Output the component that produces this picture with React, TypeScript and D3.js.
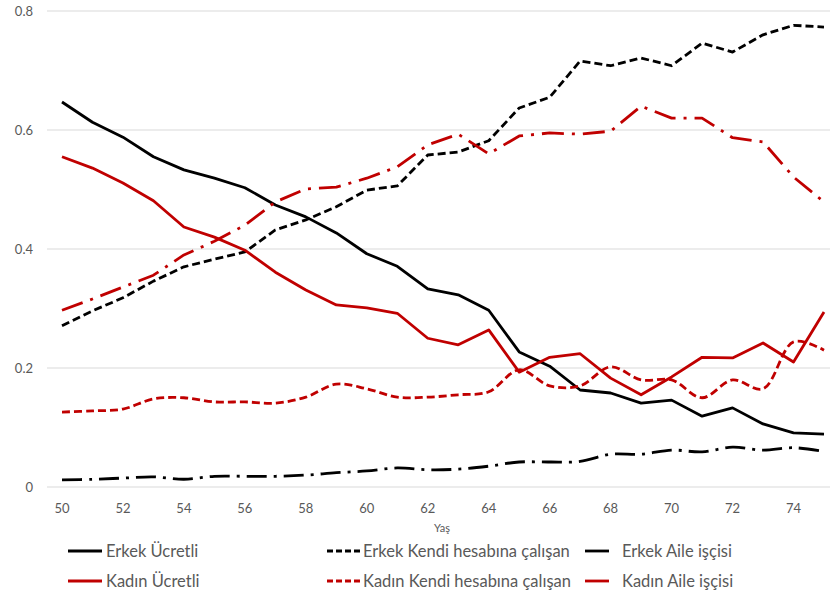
import React, { useRef, useEffect } from "react";
import * as d3 from "d3";

// ages on the x axis
const ages = d3.range(50, 76);
const xTicks = [50, 52, 54, 56, 58, 60, 62, 64, 66, 68, 70, 72, 74];
const yTicks = [0, 0.2, 0.4, 0.6, 0.8];

const erkekUcretli = [0.647, 0.613, 0.588, 0.555, 0.533, 0.519, 0.503, 0.474, 0.454, 0.427, 0.392, 0.371, 0.333, 0.323, 0.297, 0.227, 0.203, 0.163, 0.158, 0.141, 0.146, 0.119, 0.133, 0.106, 0.091, 0.089];
const kadinUcretli = [0.555, 0.536, 0.511, 0.481, 0.437, 0.42, 0.398, 0.361, 0.331, 0.306, 0.301, 0.292, 0.25, 0.239, 0.264, 0.193, 0.218, 0.224, 0.183, 0.155, 0.185, 0.218, 0.217, 0.242, 0.21, 0.294];
const erkekKendi = [0.271, 0.296, 0.318, 0.346, 0.37, 0.383, 0.395, 0.432, 0.449, 0.471, 0.499, 0.506, 0.558, 0.563, 0.582, 0.637, 0.655, 0.716, 0.708, 0.721, 0.708, 0.746, 0.731, 0.76, 0.776, 0.773];
const kadinKendi = [0.126, 0.128, 0.131, 0.148, 0.15, 0.143, 0.143, 0.141, 0.151, 0.173, 0.165, 0.151, 0.151, 0.155, 0.16, 0.197, 0.17, 0.17, 0.202, 0.18, 0.18, 0.15, 0.18, 0.165, 0.244, 0.23];
const erkekAile = [0.012, 0.013, 0.015, 0.017, 0.013, 0.018, 0.018, 0.018, 0.02, 0.024, 0.027, 0.032, 0.029, 0.03, 0.035, 0.042, 0.042, 0.043, 0.055, 0.055, 0.062, 0.059, 0.067, 0.062, 0.066, 0.06];
const kadinAile = [0.297, 0.316, 0.336, 0.356, 0.39, 0.413, 0.44, 0.479, 0.501, 0.504, 0.519, 0.538, 0.575, 0.593, 0.56, 0.59, 0.595, 0.593, 0.598, 0.64, 0.62, 0.62, 0.587, 0.58, 0.521, 0.479];

const BLACK = "#000000";
const RED = "#c00000";
const TEXT = "#595959";
const FONT = "Lato, 'Open Sans', sans-serif";

const series = [
  { name: "Erkek Ücretli", values: erkekUcretli, color: BLACK, dash: null, smooth: false },
  { name: "Erkek Kendi hesabına çalışan", values: erkekKendi, color: BLACK, dash: "8,4", smooth: false },
  { name: "Erkek Aile işçisi", values: erkekAile, color: BLACK, dash: "20,7,3,7", smooth: true },
  { name: "Kadın Ücretli", values: kadinUcretli, color: RED, dash: null, smooth: false },
  { name: "Kadın Kendi hesabına çalışan", values: kadinKendi, color: RED, dash: "8,4", smooth: true },
  { name: "Kadın Aile işçisi", values: kadinAile, color: RED, dash: "22,8,3,8", smooth: false },
];

export default function App() {
  const svgRef = useRef<SVGSVGElement>(null);

  useEffect(() => {
    const svg = d3.select(svgRef.current);
    svg.selectAll("*").remove();

    const x = d3.scaleLinear().domain([50, 75]).range([62, 824]);
    const y = d3.scaleLinear().domain([0, 0.8]).range([487, 11]);

    // grid
    svg.append("g")
      .selectAll("line")
      .data(yTicks)
      .join("line")
        .attr("x1", 47)
        .attr("x2", 830)
        .attr("y1", d => y(d))
        .attr("y2", d => y(d))
        .attr("stroke", "#d9d9d9")
        .attr("stroke-width", 1);

    // y labels
    svg.append("g")
      .selectAll("text")
      .data(yTicks)
      .join("text")
        .attr("x", 33)
        .attr("y", d => y(d) + 5)
        .attr("text-anchor", "end")
        .attr("font-size", "13px")
        .attr("font-family", FONT)
        .attr("fill", TEXT)
        .text(d => d === 0 ? "0" : d3.format(".1f")(d));

    // x labels
    svg.append("g")
      .selectAll("text")
      .data(xTicks)
      .join("text")
        .attr("x", d => x(d))
        .attr("y", 513)
        .attr("text-anchor", "middle")
        .attr("font-size", "13px")
        .attr("font-family", FONT)
        .attr("fill", TEXT)
        .text(d => d);

    svg.append("text")
      .attr("x", 442)
      .attr("y", 532)
      .attr("text-anchor", "middle")
      .attr("font-size", "11px")
      .attr("font-family", FONT)
      .attr("fill", TEXT)
      .text("Yaş");

    // lines
    series.forEach(s => {
      const line = d3.line<number>()
        .x((_, i) => x(ages[i]))
        .y(d => y(d))
        .curve(s.smooth ? d3.curveCatmullRom.alpha(0.5) : d3.curveLinear);
      svg.append("path")
        .datum(s.values)
        .attr("d", line)
        .attr("fill", "none")
        .attr("stroke", s.color)
        .attr("stroke-width", 2.8)
        .attr("stroke-dasharray", s.dash)
        .attr("stroke-linejoin", "round");
    });

    // legend
    const cols = [[68, 106], [327, 363], [585, 622]];
    const rows = [551, 581];
    series.forEach((s, i) => {
      const col = cols[i % 3];
      const row = rows[Math.floor(i / 3)];
      const lx2 = i % 3 === 2 ? col[0] + 24 : col[0] + 34;
      svg.append("line")
        .attr("x1", col[0])
        .attr("x2", lx2)
        .attr("y1", row)
        .attr("y2", row)
        .attr("stroke", s.color)
        .attr("stroke-width", 2.8)
        .attr("stroke-dasharray", s.dash && s.dash.startsWith("8") ? "6,3" : null);
      svg.append("text")
        .attr("x", col[1])
        .attr("y", row + 6)
        .attr("font-size", "16.5px")
        .attr("font-family", FONT)
        .attr("fill", TEXT)
        .text(s.name);
    });
  }, []);

  return (
    <svg
      ref={svgRef}
      width={830}
      height={599}
      style={{ position: "absolute", left: 0, top: 0, background: "#fff" }}
    />
  );
}
